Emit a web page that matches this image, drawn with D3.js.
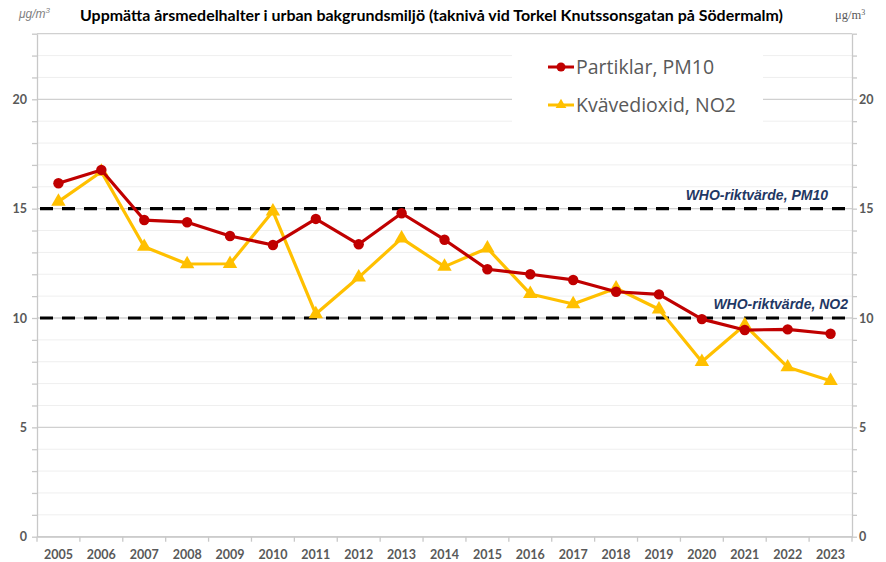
<!DOCTYPE html>
<html>
<head>
<meta charset="utf-8">
<script src="https://d3js.org/d3.v7.min.js"></script>
<style>
  body { margin: 0; background: #fff; }
  svg text { font-family: Lato, "Liberation Sans", sans-serif; }
</style>
</head>
<body>
<script>

// data
var years = ["2005","2006","2007","2008","2009","2010","2011","2012","2013","2014",
             "2015","2016","2017","2018","2019","2020","2021","2022","2023"];
var pm10 = [16.16, 16.77, 14.48, 14.38, 13.75, 13.34, 14.53, 13.37, 14.79, 13.58,
            12.23, 12.0, 11.74, 11.2, 11.08, 9.95, 9.45, 9.48, 9.28];
var no2 = [15.32, 16.69, 13.26, 12.47, 12.48, 14.88, 10.18, 11.86, 13.64, 12.35,
           13.19, 11.1, 10.64, 11.36, 10.4, 8.0, 9.68, 7.75, 7.13];
var whoLimits = [15, 10];
var whoLabels = ["WHO-riktvärde, PM10", "WHO-riktvärde, NO2"];
var seriesNames = ["Partiklar, PM10", "Kvävedioxid, NO2"];
var yTicks = d3.range(0, 24);
var yLabels = [0, 5, 10, 15, 20];

var width = 886, height = 562;
var plotLeft = 37, plotRight = 852, plotTop = 33.7, plotBottom = 536.7;

var svg = d3.select("body").append("svg").attr("width", width).attr("height", height);

var x = d3.scaleBand().domain(years).range([plotLeft, plotRight]).padding(0);
var y = d3.scaleLinear().domain([0, 23]).range([plotBottom, plotTop]);

//gridlines, minor every unit, darker every 5
svg.append("g").selectAll("line").data(yTicks).join("line")
  .attr("x1", plotLeft).attr("x2", plotRight)
  .attr("y1", function(d){ return y(d); }).attr("y2", function(d){ return y(d); })
  .attr("stroke", function(d){ return (d % 5 == 0 || d == 23) ? "#d0d0d0" : "#efefef"; })
  .attr("stroke-width", function(d){ return (d % 5 == 0 || d == 23) ? 1.3 : 1; });

//left axis
var yAxisL = d3.axisLeft(y).tickValues(yTicks).tickSize(5).tickSizeOuter(0)
  .tickFormat(function(d){ return yLabels.indexOf(d) >= 0 ? d : ""; });
var gl = svg.append("g").attr("transform", "translate(" + plotLeft + ",0)").call(yAxisL);

//right axis
var yAxisR = d3.axisRight(y).tickValues(yTicks).tickSize(5).tickSizeOuter(0)
  .tickFormat(function(d){ return yLabels.indexOf(d) >= 0 ? d : ""; });
var gr = svg.append("g").attr("transform", "translate(" + plotRight + ",0)").call(yAxisR);

//bottom axis: labels centred, ticks on the category boundaries
var xAxis = d3.axisBottom(x).tickSize(0).tickSizeOuter(0);
var gx = svg.append("g").attr("transform", "translate(0," + plotBottom + ")").call(xAxis);
gx.selectAll("text").attr("dy", "1.55em");
svg.append("g").selectAll("line").data(years.concat([""])).join("line")
  .attr("x1", function(d, i){ return plotLeft + i * x.bandwidth(); })
  .attr("x2", function(d, i){ return plotLeft + i * x.bandwidth(); })
  .attr("y1", plotBottom).attr("y2", plotBottom + 5)
  .attr("stroke", "#c8c8c8").attr("stroke-width", 1.3);

[gl, gr, gx].forEach(function(g){
  g.select(".domain").attr("stroke", "#c8c8c8").attr("stroke-width", 1.3);
  g.selectAll(".tick line").attr("stroke", "#c8c8c8").attr("stroke-width", 1.3);
  g.selectAll("text").attr("fill", "#595959").attr("font-size", 12.5).attr("font-weight", "bold")
    .style("font-family", "Lato, sans-serif");
});
gl.selectAll("text").attr("x", -10);
gr.selectAll("text").attr("x", 7);

//legend background hides the gridlines behind it
svg.append("rect").attr("x", 512).attr("y", 35).attr("width", 251).attr("height", 90).attr("fill", "#fff");

//WHO dashed lines
svg.append("g").selectAll("line").data(whoLimits).join("line")
  .attr("x1", plotLeft + 3).attr("x2", plotRight)
  .attr("y1", function(d){ return y(d); }).attr("y2", function(d){ return y(d); })
  .attr("stroke", "#000").attr("stroke-width", 3.2).attr("stroke-dasharray", "13,9");

svg.append("g").selectAll("text").data(whoLimits).join("text")
  .attr("x", function(d, i){ return i == 0 ? 828 : 848; })
  .attr("y", function(d){ return y(d) - 9; })
  .attr("text-anchor", "end")
  .attr("fill", "#1f3864").attr("font-size", 14).attr("font-weight", "bold").attr("font-style", "italic")
  .style("font-family", "'Liberation Sans', Arial, sans-serif")
  .text(function(d, i){ return whoLabels[i]; });

//series
var line = d3.line().x(function(d, i){ return x(years[i]) + x.bandwidth() / 2; }).y(function(d){ return y(d); });
var triangle = d3.symbol().type(d3.symbolTriangle).size(90);

svg.append("path").datum(no2).attr("d", line).attr("fill", "none")
  .attr("stroke", "#ffc000").attr("stroke-width", 3.2).attr("stroke-linejoin", "round");
svg.append("g").selectAll("path").data(no2).join("path")
  .attr("d", triangle)
  .attr("transform", function(d, i){ return "translate(" + (x(years[i]) + x.bandwidth() / 2) + "," + y(d) + ")"; })
  .attr("fill", "#ffc000");

svg.append("path").datum(pm10).attr("d", line).attr("fill", "none")
  .attr("stroke", "#c00000").attr("stroke-width", 3.2).attr("stroke-linejoin", "round");
svg.append("g").selectAll("circle").data(pm10).join("circle")
  .attr("cx", function(d, i){ return x(years[i]) + x.bandwidth() / 2; })
  .attr("cy", function(d){ return y(d); })
  .attr("r", 5.2).attr("fill", "#c00000");

//legend
var legendColors = ["#c00000", "#ffc000"];
var lg = svg.append("g").selectAll("g").data(seriesNames).join("g")
  .attr("transform", function(d, i){ return "translate(548," + (67 + i * 38) + ")"; });
lg.append("line").attr("x1", 0).attr("x2", 26).attr("y1", 0).attr("y2", 0)
  .attr("stroke", function(d, i){ return legendColors[i]; }).attr("stroke-width", 3);
lg.each(function(d, i){
  var g = d3.select(this);
  if (i == 0) {
    g.append("circle").attr("cx", 13).attr("cy", 0).attr("r", 4.5).attr("fill", legendColors[i]);
  } else {
    g.append("path").attr("d", d3.symbol().type(d3.symbolTriangle).size(50))
      .attr("transform", "translate(13,0)").attr("fill", legendColors[i]);
  }
});
lg.append("text").attr("x", 28).attr("y", 7).attr("fill", "#595959").attr("font-size", 19.5)
  .style("font-family", "'Open Sans', sans-serif")
  .text(function(d){ return d; });

//title and units
svg.append("text").attr("x", 80).attr("y", 21).attr("font-size", 14.5).attr("font-weight", "bold")
  .attr("fill", "#000").attr("textLength", 703).attr("lengthAdjust", "spacingAndGlyphs")
  .style("font-family", "Lato, sans-serif")
  .text("Uppmätta årsmedelhalter i urban bakgrundsmiljö (taknivå vid Torkel Knutssonsgatan på Södermalm)");

var ul = svg.append("text").attr("x", 19).attr("y", 18).attr("font-size", 12).attr("font-style", "italic")
  .attr("fill", "#7f7f7f").style("font-family", "'Liberation Sans', sans-serif");
ul.append("tspan").text("μg/m");
ul.append("tspan").attr("dy", -5).attr("font-size", 8).text("3");

var ur = svg.append("text").attr("x", 835).attr("y", 19).attr("font-size", 12.5)
  .attr("fill", "#595959").style("font-family", "'Liberation Serif', serif");
ur.append("tspan").text("μg/m");
ur.append("tspan").attr("dy", -4).attr("font-size", 8).text("3");

</script>
</body>
</html>
